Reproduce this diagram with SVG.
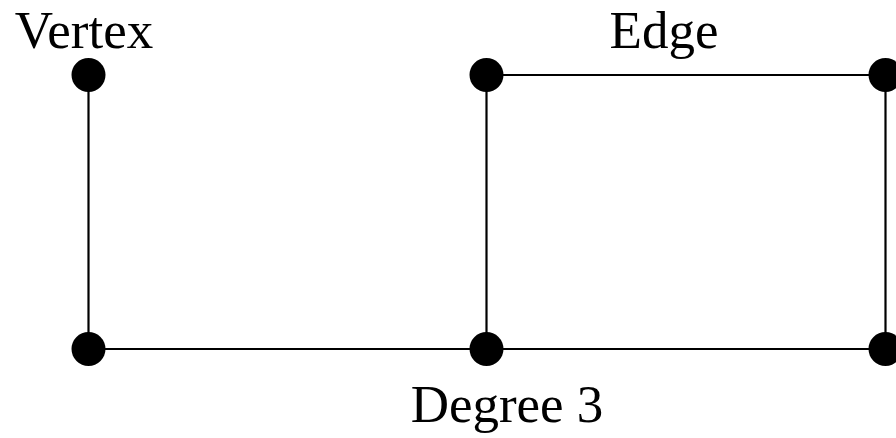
<svg xmlns="http://www.w3.org/2000/svg" width="896" height="438" viewBox="0 0 896 438">
<style>
.edge{stroke:#000;stroke-width:2.2;fill:none}
.v{fill:#000}
.lbl{font-family:"Liberation Serif","DejaVu Serif",serif;font-size:53px;fill:#000;text-anchor:middle}
</style>
<rect width="896" height="438" fill="#fff"/>
<g id="connectors">
<line class="edge" x1="88.5" y1="75" x2="88.5" y2="349"/>
<line class="edge" x1="88.5" y1="349" x2="486.5" y2="349"/>
<line class="edge" x1="486.5" y1="349" x2="885.5" y2="349"/>
<line class="edge" x1="486.5" y1="75" x2="486.5" y2="349"/>
<line class="edge" x1="486.5" y1="75" x2="885.5" y2="75"/>
<line class="edge" x1="885.5" y1="75" x2="885.5" y2="349"/>
</g>
<g id="n1"><circle class="v" cx="88.5" cy="75" r="17"/></g>
<g id="n2"><circle class="v" cx="486.5" cy="75" r="17"/></g>
<g id="n3"><circle class="v" cx="885.5" cy="75" r="17"/></g>
<g id="n4"><circle class="v" cx="88.5" cy="349" r="17"/></g>
<g id="n5"><circle class="v" cx="486.5" cy="349" r="17"/></g>
<g id="n6"><circle class="v" cx="885.5" cy="349" r="17"/></g>
<g id="labels">
<text class="lbl" x="84" y="48">Vertex</text>
<text class="lbl" x="664" y="48">Edge</text>
<text class="lbl" x="507" y="422">Degree 3</text>
</g>
</svg>
